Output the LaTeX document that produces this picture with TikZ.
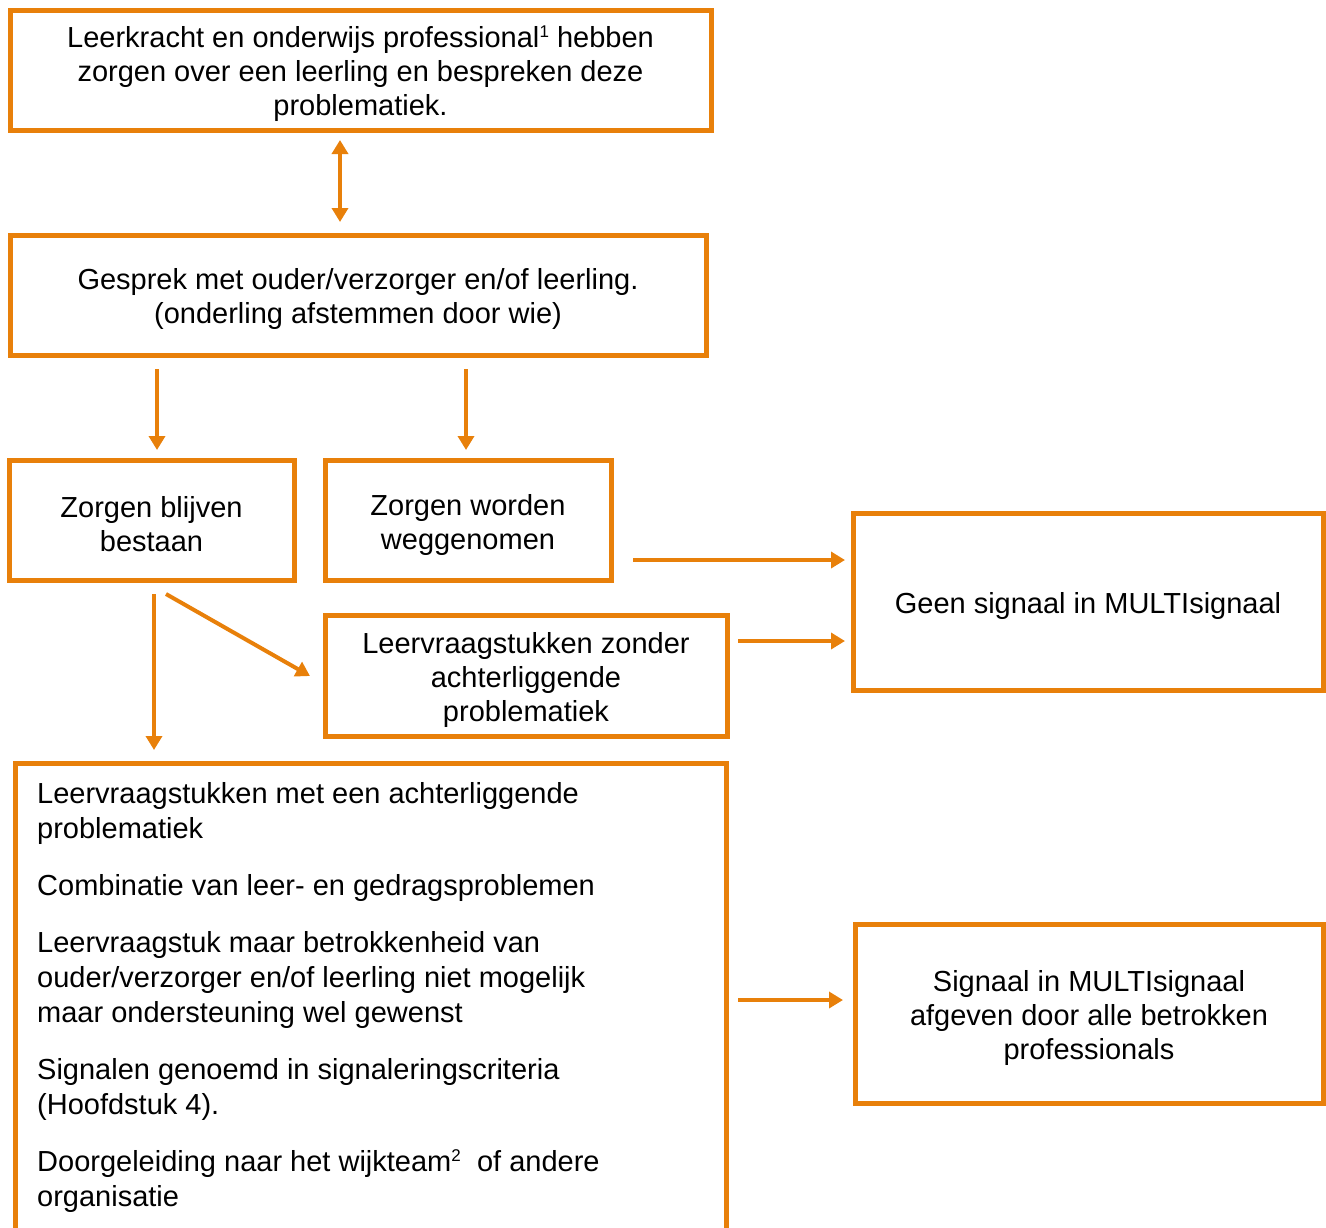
\documentclass[tikz,border=0pt]{standalone}
\usepackage{fontspec}
\setmainfont{Liberation Sans}
\usetikzlibrary{arrows.meta,calc}
\definecolor{org}{RGB}{232,128,10}
\newcommand\tp{\rule{0pt}{30pt}}
\newcommand\supr[1]{\raisebox{10pt}{\fontsize{17}{17}\selectfont #1}}
\begin{document}
\begin{tikzpicture}[x=1pt,y=-1pt,
  box/.style={draw=org,line width=5pt,inner sep=0pt,align=center,
    font=\fontsize{29}{34}\selectfont},
  arr/.style={draw=org,line width=4pt,-{Triangle[length=14pt,width=16pt]}},
  darr/.style={draw=org,line width=4pt,{Triangle[length=14pt,width=16pt]}-{Triangle[length=14pt,width=16pt]}}]
\useasboundingbox (0,0) rectangle (1326,1227);
\node[box,minimum width=701pt,minimum height=120pt] (b1) at (360.5,70)
  {\tp Leerkracht en onderwijs professional\supr{1} hebben\\zorgen over een leerling en bespreken deze\\problematiek.};
\node[box,minimum width=696pt,minimum height=120pt] (b2) at (358,295)
  {\tp Gesprek met ouder/verzorger en/of leerling.\\(onderling afstemmen door wie)};
\node[box,minimum width=285pt,minimum height=120pt] (b3) at (151.5,520)
  {\tp Zorgen blijven\\bestaan};
\node[box,minimum width=286pt,minimum height=120pt] (b4) at (468,520)
  {\tp Zorgen worden\\weggenomen};
\node[box,minimum width=470pt,minimum height=177pt] (b5) at (1088,601.5)
  {\tp Geen signaal in MULTIsignaal};
\node[box,minimum width=402pt,minimum height=121pt] (b6) at (526,675.5)
  {\tp Leervraagstukken zonder\\achterliggende\\problematiek};
\node[box,minimum width=711pt,minimum height=497pt] (b7) at (370.5,1011.5) {};
\node[box,minimum width=468pt,minimum height=179pt] (b8) at (1089,1013.5)
  {\tp Signaal in MULTIsignaal\\afgeven door alle betrokken\\professionals};
\node[anchor=north west,inner sep=0pt,align=left,font=\fontsize{29}{35}\selectfont] (t7) at (37,782)
  {Leervraagstukken met een achterliggende\\problematiek\\[22pt]
   Combinatie van leer- en gedragsproblemen\\[22pt]
   Leervraagstuk maar betrokkenheid van\\ouder/verzorger en/of leerling niet mogelijk\\maar ondersteuning wel gewenst\\[22pt]
   Signalen genoemd in signaleringscriteria\\(Hoofdstuk 4).\\[22pt]
   Doorgeleiding naar het wijkteam\supr{2}~ of andere\\organisatie};
% connectors
\draw[darr,shorten <=7.5pt,shorten >=10.5pt] (b1.south -| 340,0) -- (b2.north -| 340,0);
\draw[arr,shorten <=11.5pt,shorten >=7.5pt] (b2.south -| 157,0) -- (b3.north -| 157,0);
\draw[arr,shorten <=11.5pt,shorten >=7.5pt] (b2.south -| 466,0) -- (b4.north -| 466,0);
\draw[arr,shorten <=19.5pt,shorten >=5.5pt] (b4.east |- 0,560) -- (b5.west |- 0,560);
\draw[arr,shorten <=8.5pt,shorten >=5.5pt] (b6.east |- 0,641) -- (b5.west |- 0,641);
\draw[arr] ($(b3.south)+(14.5,11.5)$) -- ($(b6.west)+(-12.5,0.5)$);
\draw[arr] (b3.south) ++(2.5,11.5) coordinate (s3) -- ($(s3 |- b7.north)+(0,-10.5)$);
\draw[arr,shorten <=9.5pt,shorten >=9.5pt] (b7.east |- 0,1000) -- (b8.west |- 0,1000);
\end{tikzpicture}
\end{document}
